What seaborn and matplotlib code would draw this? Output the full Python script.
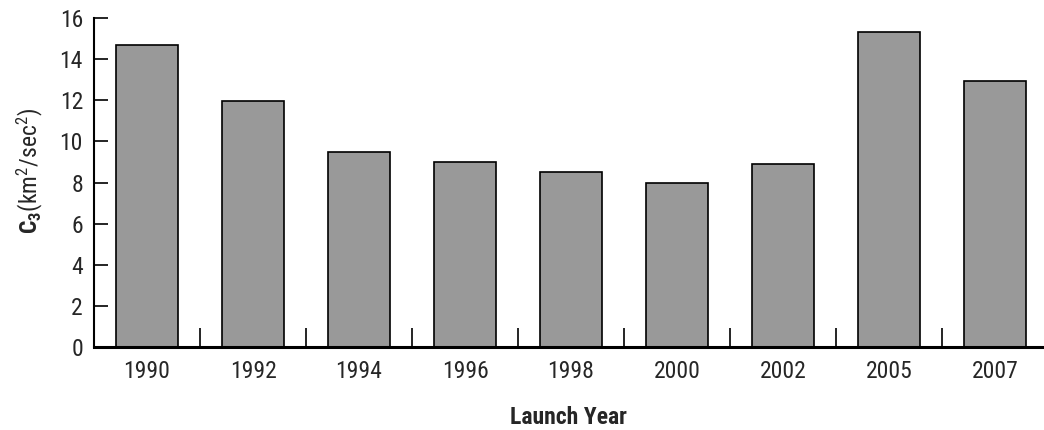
import numpy as np
import pandas as pd
import matplotlib
matplotlib.use('Agg')
import matplotlib.pyplot as plt
import seaborn as sns

# Data
years = ['1990', '1992', '1994', '1996', '1998', '2000', '2002', '2005', '2007']
c3_values = [14.7, 11.95, 9.5, 9.0, 8.5, 8.0, 8.9, 15.3, 12.95]

sns.set_style('white')
FONT = 'Roboto Condensed'
plt.rcParams['font.family'] = [FONT, 'Liberation Sans', 'DejaVu Sans']
plt.rcParams['mathtext.fontset'] = 'custom'
plt.rcParams['mathtext.rm'] = FONT
plt.rcParams['mathtext.it'] = FONT + ':italic'
plt.rcParams['mathtext.bf'] = FONT + ':bold'

df = pd.DataFrame({'year': years, 'c3': c3_values})

W, H = 1044, 430
fig = plt.figure(figsize=(W / 100, H / 100), dpi=100)
ax = fig.add_axes([94 / W, 83 / H, 954 / W, 329 / H])

sns.barplot(data=df, x='year', y='c3', color='#999999', saturation=1,
            edgecolor='black', linewidth=1.2, width=0.58, ax=ax)

ax.set_xlim(-0.5, len(years) - 0.5)
ax.set_ylim(0, 16)
ax.set_yticks(np.arange(0, 17, 2))

# category separators as inward minor ticks
ax.set_xticks(np.arange(0.5, len(years) - 0.5, 1), minor=True)
ax.tick_params(axis='x', which='major', length=0, labelsize=17, pad=9, bottom=True)
ax.tick_params(axis='x', which='minor', direction='in', length=14, width=1.2,
               color='black', bottom=True)
ax.tick_params(axis='y', direction='in', length=10, width=1.2, color='black',
               labelsize=17, pad=8, left=True)

for side in ['top', 'right']:
    ax.spines[side].set_visible(False)
ax.spines['left'].set_linewidth(1.5)
ax.spines['bottom'].set_linewidth(2.2)
ax.spines['left'].set_color('black')
ax.spines['bottom'].set_color('black')

ax.set_xlabel('Launch Year', fontsize=17, fontweight='bold')
ax.set_ylabel(r'$\mathbf{C}_\mathbf{3}$(km$^2$/sec$^2$)', fontsize=17)
ax.xaxis.set_label_coords((568 - 94) / 954, -(417 - 347) / 329)
ax.xaxis.label.set_va('center')
ax.yaxis.set_label_coords(-(94 - 30) / 954, (347 - 171) / 329)
ax.yaxis.label.set_va('center')

fig.savefig('out.png', dpi=100)
